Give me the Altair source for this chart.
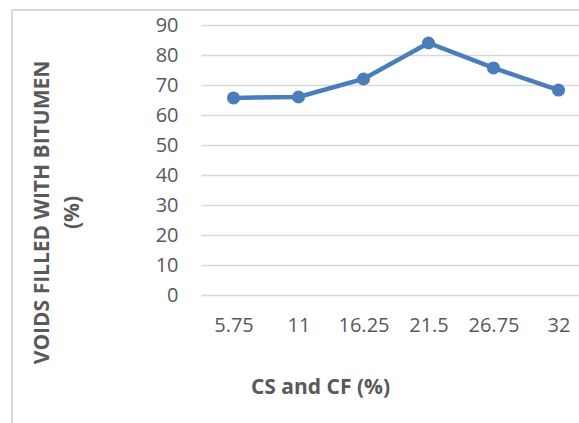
import altair as alt
import pandas as pd

# CS and CF content (%) and the measured voids filled with bitumen (%)
cs_cf = ["5.75", "11", "16.25", "21.5", "26.75", "32"]
vfb = [65.7, 66.0, 72.0, 84.0, 75.7, 68.3]

df = pd.DataFrame({"cs_cf": cs_cf, "vfb": vfb})

FONT = "Open Sans"
TEXT = "#595959"
GRID = "#d9d9d9"
BLUE = "#4a7ebb"

x_enc = alt.X(
    "cs_cf:O",
    sort=cs_cf,
    scale=alt.Scale(type="point", range=[0, 390], padding=0.5),
    axis=alt.Axis(
        title="CS and CF (%)",
        labelAngle=0,
        labelFontSize=20,
        labelColor=TEXT,
        labelFont=FONT,
        labelPadding=20,
        domain=False,
        ticks=False,
        grid=False,
        titleFont=FONT,
        titleFontSize=21,
        titleFontWeight="bold",
        titleColor=TEXT,
        titleX=119,
        titleY=92,
        titleAlign="center",
        titleBaseline="middle",
    ),
)

y_enc = alt.Y(
    "vfb:Q",
    scale=alt.Scale(domain=[0, 90], nice=False),
    axis=alt.Axis(
        title=["VOIDS FILLED WITH BITUMEN", "(%)"],
        values=list(range(0, 91, 10)),
        labelFontSize=20,
        labelColor=TEXT,
        labelFont=FONT,
        labelPadding=23,
        domain=False,
        ticks=False,
        gridColor=GRID,
        gridWidth=1.5,
        titleFont=FONT,
        titleFontSize=21,
        titleFontWeight="bold",
        titleColor=TEXT,
        titleLineHeight=30,
        titleAngle=-90,
        titleX=-159,
        titleY=187,
        titleAlign="center",
        titleBaseline="middle",
    ),
)

line = alt.Chart(df).mark_line(
    color=BLUE, strokeWidth=4.5, point=alt.OverlayMarkDef(color=BLUE, size=170, filled=True, opacity=1)
).encode(x=x_enc, y=y_enc)

# Outer frame of the chart area (left and top edges)
frame_left = alt.Chart(df).mark_rule(color=GRID, strokeWidth=1.5).encode(
    x=alt.value(-189), y=alt.value(-15), y2=alt.value(420)
)
frame_top = alt.Chart(df).mark_rule(color=GRID, strokeWidth=1.5).encode(
    x=alt.value(-189), x2=alt.value(400), y=alt.value(-15)
)

chart = (
    alt.layer(frame_left, frame_top, line)
    .properties(
        width=378,
        height=270,
        autosize=alt.AutoSizeParams(type="none"),
        padding={"left": 201, "top": 25, "right": 0, "bottom": 128},
        background="white",
    )
    .configure_view(stroke=None)
)

chart.save("out.html", embed_options={"renderer": "svg", "actions": False})
